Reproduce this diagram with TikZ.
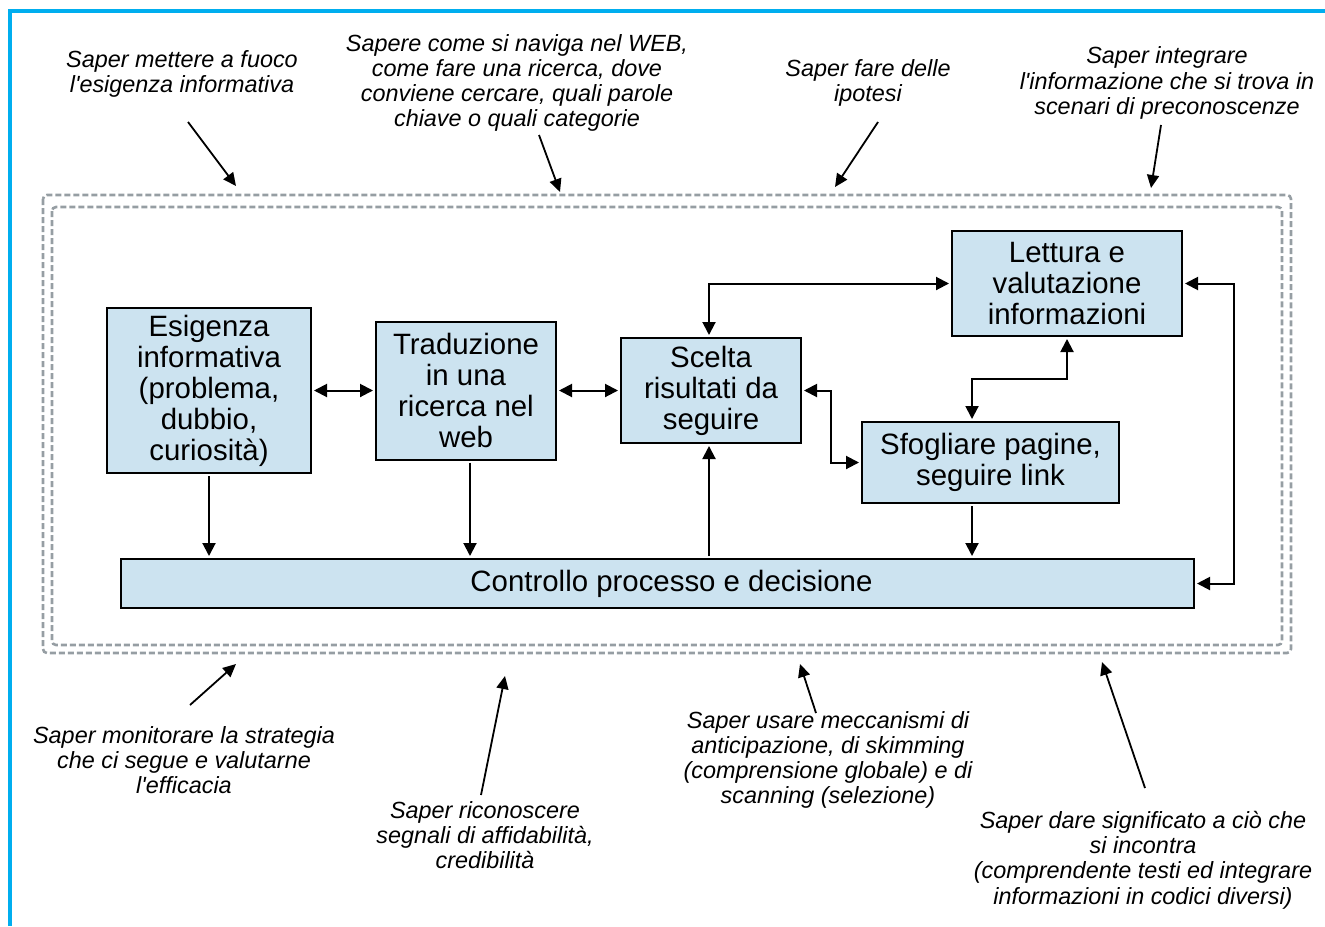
\documentclass[tikz,border=0pt]{standalone}
\usepackage{fontspec}
\setmainfont{Liberation Sans}
\usetikzlibrary{positioning}
\usetikzlibrary{arrows.meta}
\definecolor{boxblue}{RGB}{204,227,240}
\definecolor{edgeblue}{RGB}{0,174,239}
\definecolor{framegray}{RGB}{150,158,163}
\tikzset{node distance=31.5pt,
block/.style={
draw,
line width=1pt,
fill=boxblue,
align=center,
inner sep=0pt,
font=\fontsize{14.7}{15.5}\selectfont},
note/.style={
align=center,
inner sep=0pt,
font=\fontsize{11.7}{12.6}\selectfont\itshape},
link/.style={
draw,
line width=1pt,
>={Triangle[length=6.5pt,width=6.5pt]},
shorten >=1pt,
shorten <=1pt},
pointer/.style={
draw,
line width=0.9pt,
->,
>={Triangle[length=6.5pt,width=6pt]}},
frame/.style={
draw=framegray,
line width=1.3pt,
dash pattern=on 3pt off 1.5pt,
rounded corners=2pt}}

\begin{document}
\begin{tikzpicture}[x=0.5pt, y=-0.5pt]
\useasboundingbox (0,0) rectangle (1325,926);
\draw[edgeblue, line width=2pt] (1325,11) -- (10,11) -- (10,926);
\draw[frame] (43,195) rectangle (1291,653);
\draw[frame] (52,207) rectangle (1282,645);
% blocchi
\node[block, minimum width=102pt, minimum height=82.5pt] (esig) at (209,390.5) {Esigenza\\informativa\\(problema,\\dubbio,\\curiosità)};
\node[block, minimum width=90pt, minimum height=69pt, right=of esig] (trad) {Traduzione\\in una\\ricerca nel\\web};
\node[block, minimum width=90pt, minimum height=52.5pt, right=of trad] (scelta) {Scelta\\risultati da\\seguire};
\node[block, minimum width=115pt, minimum height=52.5pt] (lett) at (1067,283.5) {Lettura e\\valutazione\\informazioni};
\node[block, minimum width=128.5pt, minimum height=40.5pt] (sfog) at (990.5,462.5) {Sfogliare pagine,\\seguire link};
\node[block, minimum width=536.5pt, minimum height=24.5pt] (ctrl) at (657.5,583.5) {\hspace*{14pt}Controllo processo e decisione};
\coordinate (rt) at (1234,400);
% collegamenti
\draw[link, <->] (trad.west -| esig.east) -- (trad.west);
\draw[link, <->] (trad.east) -- (trad.east -| scelta.west);
\draw[link, <->] ([xshift=-1pt]scelta.north) |- (lett.west);
\draw[link, <->] (scelta.east) -- ([xshift=14.5pt]scelta.east) |- (sfog.west);
\draw[link, <->] ([xshift=-9.25pt]sfog.north) -- ++(0,21pt) -| (lett.south);
\draw[link, <->] (lett.east) -| (rt) |- (ctrl.east);
\draw[link, ->] (esig.south) -- (esig.south |- ctrl.north);
\draw[link, ->] ([xshift=2pt]trad.south) -- ([xshift=2pt]trad.south |- ctrl.north);
\draw[link, ->] ([xshift=-1pt]scelta.south |- ctrl.north) -- ([xshift=-1pt]scelta.south);
\draw[link, ->] ([xshift=-9.25pt]sfog.south) -- ([xshift=-9.25pt]sfog.south |- ctrl.north);
% competenze
\node[note] (n1) at (182,74) {Saper mettere a fuoco\\l\textquotesingle esigenza informativa};
\node[note] (n2) at (517,83) {Sapere come si naviga nel WEB,\\come fare una ricerca, dove\\conviene cercare, quali parole\\chiave o quali categorie};
\node[note] (n3) at (868,83) {Saper fare delle\\ipotesi};
\node[note] (n4) at (1167,83) {Saper integrare\\l\textquotesingle informazione che si trova in\\scenari di preconoscenze};
\node[note] (n5) at (184,760) {Saper monitorare la strategia\\che ci segue e valutarne\\l\textquotesingle efficacia};
\node[note] (n6) at (485,835) {Saper riconoscere\\segnali di affidabilità,\\credibilità};
\node[note] (n7) at (828,760) {Saper usare meccanismi di\\anticipazione, di skimming\\(comprensione globale) e di\\scanning (selezione)};
\node[note] (n8) at (1143,860) {Saper dare significato a ciò che\\si incontra\\(comprendente testi ed integrare\\informazioni in codici diversi)};
\coordinate (p1) at (188,122); \coordinate (q1) at (236,186);
\coordinate (p2) at (539,135); \coordinate (q2) at (560,192);
\coordinate (p3) at (878,122); \coordinate (q3) at (835,187);
\coordinate (p4) at (1161,125); \coordinate (q4) at (1151,188);
\coordinate (p5) at (190,705); \coordinate (q5) at (236,664);
\coordinate (p6) at (481,795); \coordinate (q6) at (505,676);
\coordinate (p7) at (816,713); \coordinate (q7) at (800,664);
\coordinate (p8) at (1145,788); \coordinate (q8) at (1102,662);
\draw[pointer] (p1) -- (q1);
\draw[pointer] (p2) -- (q2);
\draw[pointer] (p3) -- (q3);
\draw[pointer] (p4) -- (q4);
\draw[pointer] (p5) -- (q5);
\draw[pointer] (p6) -- (q6);
\draw[pointer] (p7) -- (q7);
\draw[pointer] (p8) -- (q8);
\end{tikzpicture}
\end{document}
